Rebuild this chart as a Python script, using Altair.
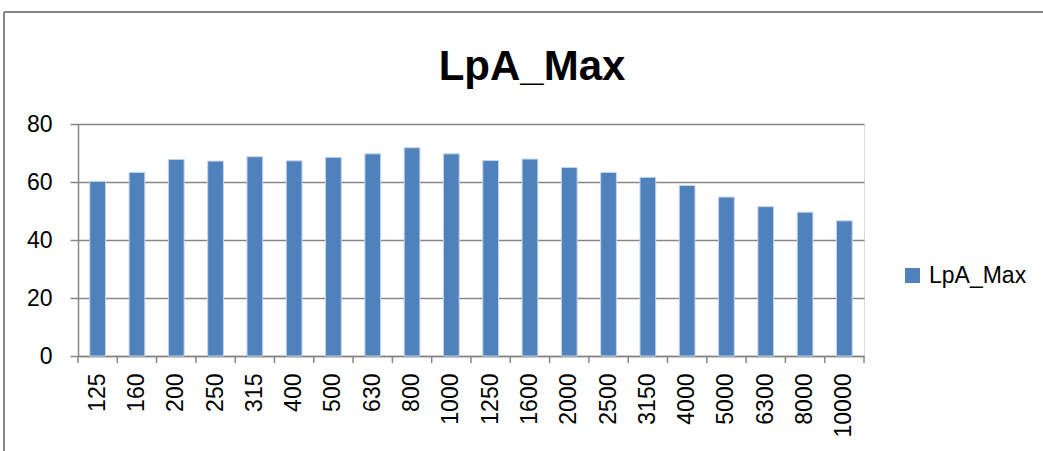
import altair as alt
import pandas as pd

# Third-octave band centre frequencies (Hz) and maximum A-weighted level per band
freqs = ["125", "160", "200", "250", "315", "400", "500", "630", "800", "1000",
         "1250", "1600", "2000", "2500", "3150", "4000", "5000", "6300", "8000", "10000"]
lpa_max = [60.2, 63.3, 67.8, 67.2, 68.7, 67.3, 68.5, 69.7, 71.8, 69.7,
           67.4, 67.9, 65.0, 63.3, 61.6, 58.8, 54.8, 51.5, 49.6, 46.6]
series_name = "LpA_Max"

df = pd.DataFrame({"freq": freqs, "value": lpa_max, "series": series_name})

W, H = 786, 232
LEFT, TOP = 78, 124
GRAY = "#868686"
FONT = "Liberation Sans"

x_enc = alt.X("freq:N", sort=freqs,
              scale=alt.Scale(paddingInner=0, paddingOuter=0),
              axis=alt.Axis(title=None, labelAngle=270, labelFontSize=23,
                            labelFont=FONT, labelColor="black", ticks=False,
                            tickSize=0, labelPadding=17, domainColor=GRAY,
                            domainWidth=1.5, grid=False))

bars = alt.Chart(df).mark_bar(
    width=alt.RelativeBandSize(0.4), stroke="#c3d5ea", strokeWidth=1
).encode(
    x=x_enc,
    y=alt.Y("value:Q", scale=alt.Scale(domain=[0, 80]),
            axis=alt.Axis(title=None, values=[0, 20, 40, 60, 80],
                          labelFontSize=23, labelFont=FONT, labelColor="black",
                          tickSize=8, tickColor=GRAY, tickWidth=1.5,
                          labelPadding=18, domainColor=GRAY, domainWidth=1.5,
                          gridColor=GRAY, gridWidth=1.5)),
    color=alt.Color("series:N",
                    scale=alt.Scale(range=["#4F81BD"]),
                    legend=alt.Legend(title=None, orient="none",
                                      legendX=823, legendY=140,
                                      symbolType="square", symbolSize=225,
                                      symbolStrokeWidth=0, labelFontSize=23,
                                      labelFont=FONT, labelColor="black",
                                      labelOffset=5)),
)

# category separator ticks under the x axis, at band edges
sep_ticks = alt.Chart(df).mark_rule(color=GRAY, strokeWidth=1.5).encode(
    x=alt.X("freq:N", sort=freqs, bandPosition=0),
    y=alt.value(H),
    y2=alt.value(H + 7),
)
end_tick = alt.Chart(df.head(1)).mark_rule(color=GRAY, strokeWidth=1.5).encode(
    x=alt.value(W), y=alt.value(H), y2=alt.value(H + 7)
)

# chart-area frame (left and top edges)
frame_left = alt.Chart(df.head(1)).mark_rule(color=GRAY, strokeWidth=2).encode(
    x=alt.value(4 - LEFT), y=alt.value(12 - TOP), y2=alt.value(460 - TOP)
)
frame_top = alt.Chart(df.head(1)).mark_rule(color=GRAY, strokeWidth=2).encode(
    x=alt.value(4 - LEFT), x2=alt.value(1060 - LEFT), y=alt.value(12 - TOP)
)

# chart title
title = alt.Chart(df.head(1)).mark_text(
    font=FONT, fontSize=42, fontWeight="bold", color="black",
    align="center", baseline="alphabetic"
).encode(
    x=alt.value(532 - LEFT), y=alt.value(80 - TOP), text="series:N"
)

chart = alt.layer(bars, sep_ticks, end_tick, frame_left, frame_top, title).properties(
    width=W, height=H,
    autosize=alt.AutoSizeParams(type="none"),
    padding={"left": LEFT, "top": TOP, "right": 1043 - LEFT - W, "bottom": 451 - TOP - H},
).configure_view(stroke=None).configure(background="white")

chart.save("out.html", embed_options={"renderer": "svg", "actions": False})
